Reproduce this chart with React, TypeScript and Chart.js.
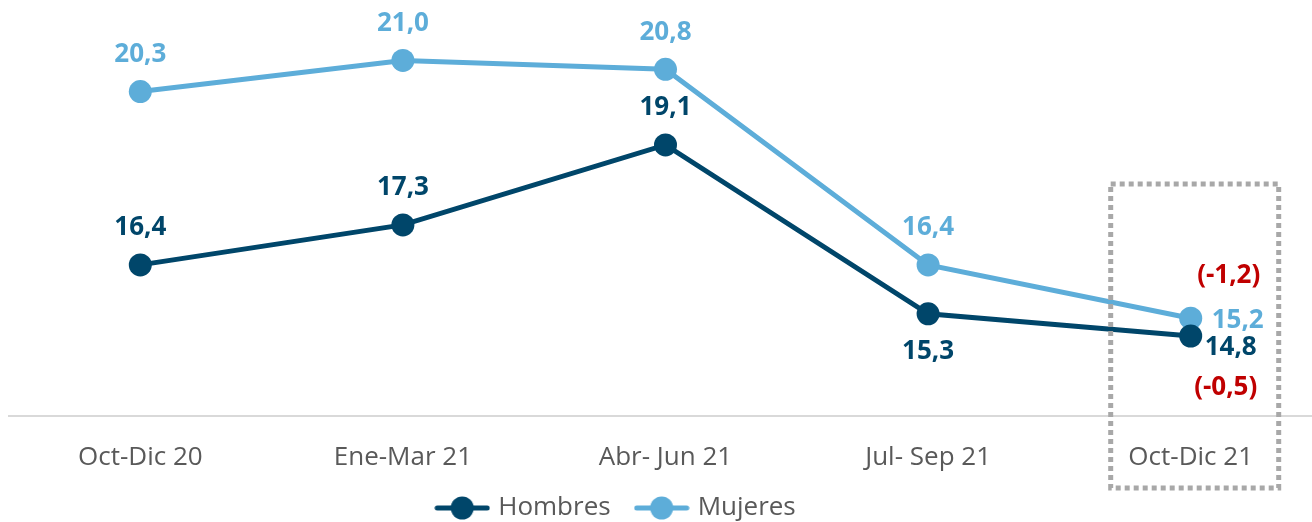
import React, { useEffect, useRef } from "react";
import { Chart, registerables } from "chart.js";

Chart.register(...registerables);

const categories = ["Oct-Dic 20", "Ene-Mar 21", "Abr- Jun 21", "Jul- Sep 21", "Oct-Dic 21"];
const hombres = [16.4, 17.3, 19.1, 15.3, 14.8];
const mujeres = [20.3, 21.0, 20.8, 16.4, 15.2];
const hombresChange = "(-0,5)";
const mujeresChange = "(-1,2)";
const hombresLabelPlace = ["top", "top", "top", "bottom", "right-low"];
const mujeresLabelPlace = ["top", "top", "top", "top", "right"];

const DARK = "#00466A";
const LIGHT = "#5DADD9";
const RED = "#C00000";
const FONT = "'Open Sans', 'Noto Sans', sans-serif";

function legendMarker(color: string): HTMLCanvasElement {
  const c = document.createElement("canvas");
  c.width = 56;
  c.height = 26;
  const ctx = c.getContext("2d")!;
  ctx.strokeStyle = color;
  ctx.lineWidth = 5;
  ctx.lineCap = "round";
  ctx.beginPath();
  ctx.moveTo(3, 13);
  ctx.lineTo(53, 13);
  ctx.stroke();
  ctx.fillStyle = color;
  ctx.beginPath();
  ctx.arc(28, 13, 11.5, 0, Math.PI * 2);
  ctx.fill();
  return c;
}

const fmt = (v: number) => v.toFixed(1).replace(".", ",");

const labelsPlugin = {
  id: "valueLabels",
  afterDatasetsDraw(chart: any) {
    const ctx = chart.ctx;
    ctx.save();
    ctx.font = `bold 26px ${FONT}`;
    ctx.textBaseline = "middle";
    const places = [hombresLabelPlace, mujeresLabelPlace];
    chart.data.datasets.forEach((ds: any, di: number) => {
      const meta = chart.getDatasetMeta(di);
      meta.data.forEach((pt: any, i: number) => {
        const place = places[di][i];
        const txt = fmt(ds.data[i]);
        ctx.fillStyle = ds.borderColor;
        let x = pt.x;
        let y = pt.y;
        if (place === "top") {
          ctx.textAlign = "center";
          y -= 37;
        } else if (place === "bottom") {
          ctx.textAlign = "center";
          y += 38;
        } else if (place === "right") {
          ctx.textAlign = "left";
          x += 21;
          y += 2;
        } else {
          ctx.textAlign = "left";
          x += 14;
          y += 12;
        }
        ctx.fillText(txt, x, y);
      });
    });
    const n = categories.length - 1;
    const hPt = chart.getDatasetMeta(0).data[n];
    const mPt = chart.getDatasetMeta(1).data[n];
    ctx.fillStyle = RED;
    ctx.textAlign = "center";
    ctx.fillText(mujeresChange, mPt.x + 38, mPt.y - 43);
    ctx.fillText(hombresChange, hPt.x + 35, hPt.y + 52);
    ctx.restore();
  },
  afterDraw(chart: any) {
    const ctx = chart.ctx;
    const xs = chart.scales.x;
    const px = xs.getPixelForValue(categories.length - 1);
    const bottom = chart.chartArea.bottom;
    ctx.save();
    ctx.strokeStyle = "#A8A8A8";
    ctx.lineWidth = 5;
    ctx.setLineDash([5, 4]);
    ctx.strokeRect(px - 80, bottom - 232, 168, 304);
    ctx.restore();
  },
  afterLayout(chart: any) {
    if (chart.legend) {
      chart.legend.left -= 48;
      chart.legend.right -= 48;
      chart.legend.top -= 9;
      chart.legend.bottom -= 9;
    }
  },
};

export default function App() {
  const ref = useRef<HTMLCanvasElement>(null);
  useEffect(() => {
    if (!ref.current) return;
    const chart = new Chart(ref.current, {
      type: "line",
      data: {
        labels: categories,
        datasets: [
          {
            label: "Hombres",
            data: hombres,
            borderColor: DARK,
            backgroundColor: DARK,
            borderWidth: 5,
            pointRadius: 11.5,
            pointBorderWidth: 0,
            pointBackgroundColor: DARK,
            tension: 0,
          },
          {
            label: "Mujeres",
            data: mujeres,
            borderColor: LIGHT,
            backgroundColor: LIGHT,
            borderWidth: 5,
            pointRadius: 11.5,
            pointBorderWidth: 0,
            pointBackgroundColor: LIGHT,
            tension: 0,
          },
        ],
      },
      options: {
        responsive: false,
        animation: false,
        events: [],
        layout: { autoPadding: false, padding: { left: 9, right: 0, top: 16, bottom: 0 } },
        scales: {
          x: {
            offset: true,
            grid: { display: false, drawTicks: false },
            border: { display: true, color: "#D9D9D9", width: 2 },
            ticks: { color: "#595959", font: { family: FONT, size: 26 }, padding: 26, maxRotation: 0, autoSkip: false },
            afterFit: (s: any) => {
              s.height = 60;
            },
          },
          y: {
            display: false,
            min: 13,
            max: 22,
          },
        },
        plugins: {
          legend: {
            position: "bottom",
            labels: {
              usePointStyle: true,
              pointStyleWidth: 46,
              padding: 28,
              color: "#595959",
              font: { family: FONT, size: 26 },
              generateLabels: (chart: any) =>
                chart.data.datasets.map((ds: any, i: number) => ({
                  text: ds.label,
                  pointStyle: legendMarker(ds.borderColor),
                  fillStyle: ds.borderColor,
                  strokeStyle: ds.borderColor,
                  lineWidth: 0,
                  fontColor: "#595959",
                  datasetIndex: i,
                  hidden: false,
                })),
            },
          },
          tooltip: { enabled: false },
        },
      },
      plugins: [labelsPlugin],
    });
    return () => chart.destroy();
  }, []);
  return (
    <div style={{ position: "fixed", left: 0, top: 0, width: 1312, height: 522, overflow: "hidden", background: "#fff" }}>
      <div style={{ position: "absolute", left: 0, top: 0, width: 1322, height: 540 }}>
        <canvas ref={ref} width={1322} height={540} style={{ display: "block", width: 1322, height: 540 }} />
      </div>
    </div>
  );
}
